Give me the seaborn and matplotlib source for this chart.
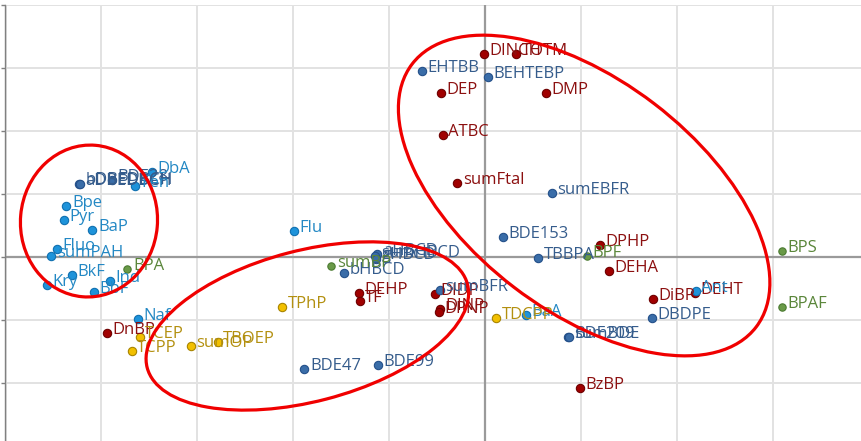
import matplotlib
matplotlib.use("Agg")
import matplotlib.pyplot as plt
from matplotlib.patches import Ellipse
from matplotlib.transforms import Affine2D, ScaledTranslation
import pandas as pd
import seaborn as sns

# PCA scores (PC1, PC2) per substance, grouped by substance class
ftal_labels = ["DINCH", "TOTM", "DEP", "DMP", "ATBC", "sumFtal", "DPHP", "DEHA",
               "DiBP", "DEHT", "BzBP", "DEHP", "TF", "DIDP", "DINP", "DPNP", "DnBP"]
ftal_pc1 = [-0.010, 0.323, -0.458, 0.635, -0.445, -0.292, 1.198, 1.289,
            1.747, 2.188, 0.990, -1.320, -1.309, -0.521, -0.469, -0.486, -3.941]
ftal_pc2 = [3.222, 3.222, 2.598, 2.598, 1.932, 1.179, 0.195, -0.217,
            -0.667, -0.571, -2.084, -0.567, -0.698, -0.583, -0.830, -0.868, -1.202]

bfr_labels = ["EHTBB", "BEHTEBP", "sumEBFR", "BDE153", "TBBPA", "DBDPE", "sumBDE",
              "BDE209", "BDE47", "BDE99", "sumBFR", "bHBCD", "aHBCD", "sumHBCD",
              "gHBCD", "aDBEDBCH", "bDBEDBCH", "BDE28"]
bfr_pc1 = [-0.659, 0.028, 0.695, 0.184, 0.555, 1.736, 0.865,
           0.870, -1.885, -1.122, -0.476, -1.476, -1.125, -1.146,
           -1.135, -4.229, -4.224, -3.889]
bfr_pc2 = [2.957, 2.852, 1.011, 0.322, -0.021, -0.963, -1.265,
           -1.268, -1.783, -1.719, -0.529, -0.254, 0.048, 0.008,
           -0.024, 1.154, 1.166, 1.222]

pah_labels = ["Fen", "DbA", "Bpe", "Pyr", "BaP", "Fluo", "sumPAH", "BkF", "Kry",
              "Ind", "BbF", "Naf", "Flu", "Ant", "BaA"]
pah_pc1 = [-3.646, -3.472, -4.365, -4.393, -4.094, -4.461, -4.521, -4.305, -4.566,
           -3.914, -4.080, -3.618, -1.997, 2.195, 0.427]
pah_pc2 = [1.132, 1.354, 0.814, 0.583, 0.433, 0.132, 0.021, -0.281, -0.449,
           -0.386, -0.556, -0.984, 0.408, -0.535, -0.921]

bp_labels = ["BPA", "sumBP", "BPF", "BPS", "BPAF"]
bp_pc1 = [-3.729, -1.604, 1.059, 3.091, 3.091]
bp_pc2 = [-0.186, -0.143, 0.016, 0.100, -0.798]

opfr_labels = ["TCEP", "TCPP", "sumOP", "TBOEP", "TPhP", "TDCPP"]
opfr_pc1 = [-3.601, -3.684, -3.066, -2.789, -2.118, 0.115]
opfr_pc2 = [-1.265, -1.497, -1.413, -1.349, -0.789, -0.963]

groups = ["Ftalater", "BFR", "PAH", "Bisfenoler", "OPFR"]
frames = []
for g, lab, x, y in zip(groups,
                        [ftal_labels, bfr_labels, pah_labels, bp_labels, opfr_labels],
                        [ftal_pc1, bfr_pc1, pah_pc1, bp_pc1, opfr_pc1],
                        [ftal_pc2, bfr_pc2, pah_pc2, bp_pc2, opfr_pc2]):
    frames.append(pd.DataFrame({"label": lab, "PC1": x, "PC2": y, "grupp": g}))
df = pd.concat(frames, ignore_index=True)

style = {
    "Ftalater":   dict(fill="#A00000", edge="#6E0000", text="#8C1010", s=36),
    "BFR":        dict(fill="#3A6DA8", edge="#24508A", text="#355C8C", s=36),
    "PAH":        dict(fill="#1E93DA", edge="#1070B0", text="#2388C4", s=36),
    "Bisfenoler": dict(fill="#6A9A48", edge="#4A7A30", text="#5A863A", s=28),
    "OPFR":       dict(fill="#F2C000", edge="#A88400", text="#B39010", s=36),
}

sns.set_theme(style="white")
plt.rcParams["font.family"] = ["Open Sans", "DejaVu Sans"]

W, H = 862, 441
fig = plt.figure(figsize=(W / 100, H / 100), dpi=100)
left_px, top_px = 5.5, 5.0
ax = fig.add_axes([left_px / W, 0.0, (W - left_px) / W, (H - top_px) / H])

x0_px, y0_px, ux, uy = 485.0, 257.0, 96.0, 63.0
ax.set_xlim((left_px - x0_px) / ux, (W - x0_px) / ux)
ax.set_ylim((y0_px - H) / uy, (y0_px - top_px) / uy)

ax.set_xticks(range(-5, 4))
ax.set_yticks(range(-2, 5))
ax.grid(True, color="#E2E2E2", linewidth=1.4)
ax.set_axisbelow(True)
ax.axhline(0, color="#9A9A9A", linewidth=1.6, zorder=1)
ax.axvline(0, color="#9A9A9A", linewidth=1.6, zorder=1)
ax.tick_params(axis="y", which="both", left=True, length=3, width=1,
               color="#808080", labelleft=False)
ax.tick_params(axis="x", bottom=False, labelbottom=False)
for side in ["right", "bottom", "top"]:
    ax.spines[side].set_visible(False)
ax.spines["left"].set_color("#808080")
ax.spines["left"].set_linewidth(1.0)
ax.set_xlabel("")
ax.set_ylabel("")

for g in groups:
    st = style[g]
    sub = df[df["grupp"] == g]
    sns.scatterplot(data=sub, x="PC1", y="PC2", ax=ax, color=st["fill"],
                    edgecolor=st["edge"], linewidth=0.8, s=st["s"],
                    legend=False, zorder=3)

for _, r in df.iterrows():
    ax.annotate(r["label"], (r["PC1"], r["PC2"]), xytext=(4.0, -0.6),
                textcoords="offset points", ha="left", va="baseline",
                fontsize=12, color=style[r["grupp"]]["text"], zorder=4)

# cluster outlines, sized in pixels and anchored at data-space centres
clusters = [
    (-4.130, 0.571, 137, 152, -5.0),
    (-1.854, -1.095, 331, 151, 14.6),
    (1.031, 0.976, 433, 231, -37.4),
]
for cx, cy, w, h, ang in clusters:
    tr = Affine2D() + ScaledTranslation(cx, cy, ax.transData)
    ax.add_patch(Ellipse((0, 0), w, h, angle=ang, transform=tr, fill=False,
                         edgecolor="#F00000", linewidth=2.3, zorder=5,
                         clip_on=False))

fig.savefig("out.png", dpi=100)
